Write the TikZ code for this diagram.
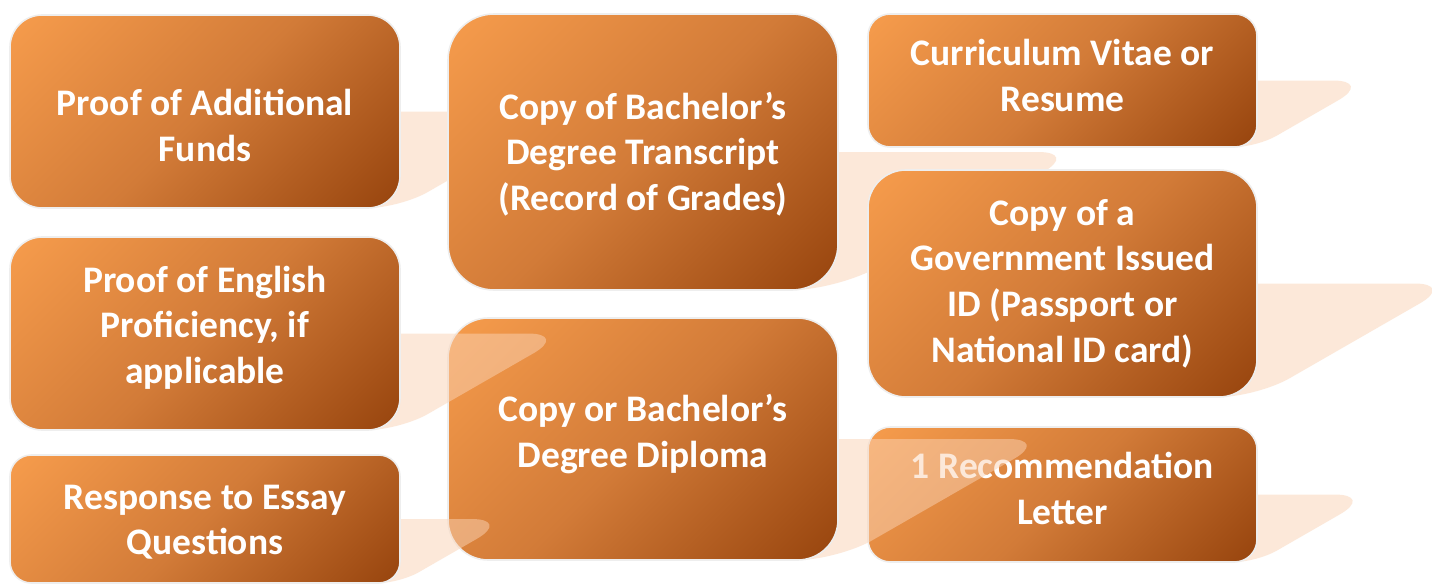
\documentclass[tikz,border=0pt]{standalone}
\usepackage{fontspec}
\setmainfont{Carlito}
\definecolor{boxlight}{HTML}{F49A4B}
\definecolor{boxmid}{HTML}{D27B38}
\definecolor{boxdark}{HTML}{99460F}
\definecolor{boxrim}{HTML}{EEEEEE}
\definecolor{shadowpeach}{HTML}{FAD3B5}
\pgfdeclarehorizontalshading{boxshade}{100bp}{color(0bp)=(boxlight); color(17bp)=(boxlight); color(50bp)=(boxmid); color(84bp)=(boxdark); color(100bp)=(boxdark)}
\tikzset{
	docbox/.style={draw=boxrim, line width=0.8pt, shading=boxshade, shading angle=-45},
	doctext/.style={text=white, align=center, font=\bfseries\fontsize{18.75}{22.8}\selectfont},
	docshadow/.style={fill=shadowpeach, fill opacity=0.5},
}
% #1 name, #2 #3 centre, #4 width, #5 height (pixels), #6 text, #7 text drop
\newcommand{\docbox}[7]{%
	\pgfmathsetmacro{\sk}{0.87*#5}%
	\pgfmathsetmacro{\rc}{0.0833*min(#4,#5)}%
	\fill[docshadow, rounded corners=\rc pt] ({#2-#4/2},{#3+#5/2}) -- ({#2+#4/2},{#3+#5/2})
		[rounded corners=20pt] -- ({#2+#4/2+\sk},#3)
		[rounded corners=3pt] -- ({#2-#4/2+\sk},#3)
		[rounded corners=\rc pt] -- cycle;
	\node (#1) at (#2,#3) [docbox, minimum width=#4*0.5pt, minimum height=#5*0.5pt, rounded corners=\rc pt] {};
	\node (#1-text) at ([yshift={-0.5pt*(#7)}]#1.center) [doctext] {#6};
}
\begin{document}
\begin{tikzpicture}[x=0.5pt, y=-0.5pt]
	\fill[white] (0,0) rectangle (1432,584);
	\useasboundingbox (0,0) rectangle (1432,584);
	\docbox{funds}{205}{111.5}{390}{193}{Proof of Additional\\Funds}{14}
	\docbox{transcript}{643}{152}{390}{276}{Copy of Bachelor’s\\Degree Transcript\\(Record of Grades)}{2}
	\docbox{cv}{1062.5}{80.5}{389}{133}{Curriculum Vitae or\\Resume}{-5}
	\docbox{govid}{1062.5}{283.5}{389}{227}{Copy of a\\Government Issued\\ID (Passport or\\National ID card)}{0}
	\docbox{rec}{1062.5}{494.5}{389}{135}{1 Recommendation\\Letter}{-6}
	\docbox{diploma}{643}{439}{390}{242}{Copy or Bachelor’s\\Degree Diploma}{-5}
	\docbox{english}{205}{333.5}{390}{193}{Proof of English\\Proficiency, if\\applicable}{-6}
	\docbox{response}{205}{519}{390}{128}{Response to Essay\\Questions}{3}
\end{tikzpicture}
\end{document}
